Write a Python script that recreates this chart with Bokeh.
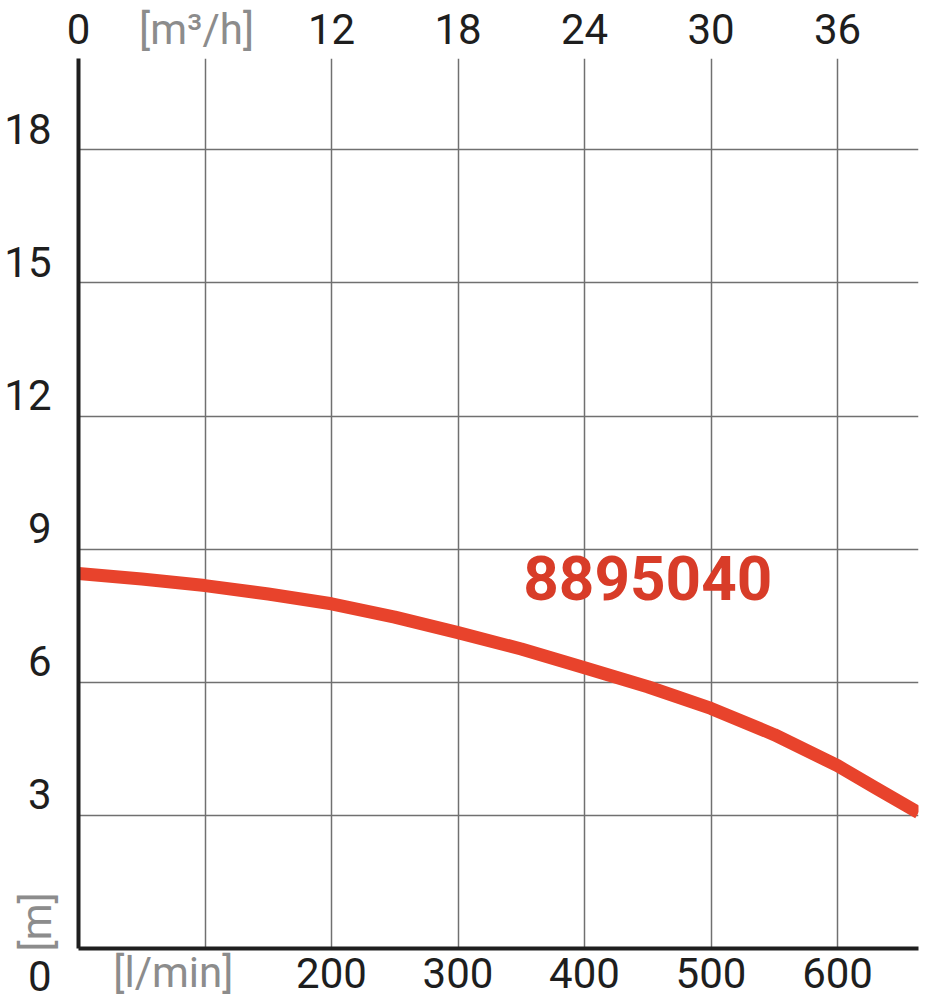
from bokeh.plotting import figure
from bokeh.models import Range1d, FixedTicker, Label, LinearAxis
from bokeh.embed import file_html
from bokeh.resources import INLINE

# ---- data ----
flow_lpm = [0, 50, 100, 150, 200, 250, 300, 350, 400, 450, 500, 550, 600, 630, 664]
head_m = [8.45, 8.33, 8.18, 7.99, 7.77, 7.47, 7.12, 6.75, 6.33, 5.9, 5.41, 4.82, 4.12, 3.62, 3.06]
series_name = "8895040"

x_ticks_lpm = [200, 300, 400, 500, 600]
top_ticks_m3h = [0, 12, 18, 24, 30, 36]
y_ticks_m = [0, 3, 6, 9, 12, 15, 18]
grid_x = [100, 200, 300, 400, 500, 600]
grid_y = [3, 6, 9, 12, 15, 18]

x_unit = "[l/min]"
x_unit_pos = 75          # l/min
top_unit = "[m³/h]"
top_unit_pos = 5.6       # m3/h
y_unit = "[m]"
y_unit_pos = 0.6         # m

X_MAX = 664
Y_MAX = 20.06

FONT = "Roboto"
FS = "42px"
BLACK = "#1e1e1e"
GRAY = "#8c8c8c"
RED = "#e8432c"

p = figure(width=933, height=1000, output_backend="svg", toolbar_location=None,
           x_range=Range1d(0, X_MAX), y_range=Range1d(0, Y_MAX),
           min_border_left=78, min_border_right=15, min_border_top=58, min_border_bottom=52,
           x_axis_location="below", y_axis_location="left")
p.extra_x_ranges = {"m3h": Range1d(0, X_MAX * 60 / 1000)}
p.outline_line_color = None
p.background_fill_color = "white"
p.border_fill_color = "white"

# grid
p.xgrid.ticker = FixedTicker(ticks=grid_x)
p.ygrid.ticker = FixedTicker(ticks=grid_y)
for g in (p.xgrid, p.ygrid):
    g.grid_line_color = "#707070"
    g.grid_line_width = 1.5


def style(ax, color=BLACK, line=True):
    ax.axis_line_color = BLACK if line else None
    ax.axis_line_width = 4
    ax.major_tick_line_color = None
    ax.minor_tick_line_color = None
    ax.major_label_text_font = FONT
    ax.major_label_text_font_size = FS
    ax.major_label_text_color = color


# main axes
bottom_axis = p.below[0]
left_axis = p.left[0]
style(bottom_axis)
style(left_axis)
bottom_axis.ticker = FixedTicker(ticks=x_ticks_lpm)
bottom_axis.major_label_standoff = 3
left_axis.ticker = FixedTicker(ticks=y_ticks_m)
left_axis.major_label_standoff = 21
left_axis.major_label_overrides = {v: (f"{v}\n" if v else "\n\n0") for v in y_ticks_m}
left_axis.major_label_text_line_height = 0.85

# top scale in m3/h
top_axis = LinearAxis(x_range_name="m3h", ticker=FixedTicker(ticks=top_ticks_m3h))
p.add_layout(top_axis, "above")
style(top_axis, line=False)
top_axis.major_label_standoff = 9

# unit captions as outer axes, pulled back onto the tick-label rows
top_unit_axis = LinearAxis(x_range_name="m3h", ticker=FixedTicker(ticks=[top_unit_pos]),
                           major_label_overrides={top_unit_pos: top_unit})
p.add_layout(top_unit_axis, "above")
style(top_unit_axis, color=GRAY, line=False)
top_unit_axis.major_label_standoff = -49

bottom_unit_axis = LinearAxis(ticker=FixedTicker(ticks=[x_unit_pos]),
                              major_label_overrides={x_unit_pos: x_unit})
p.add_layout(bottom_unit_axis, "below")
style(bottom_unit_axis, color=GRAY, line=False)
bottom_unit_axis.major_label_standoff = -49

left_unit_axis = LinearAxis(ticker=FixedTicker(ticks=[y_unit_pos]),
                            major_label_overrides={y_unit_pos: y_unit},
                            major_label_orientation="parallel")
p.add_layout(left_unit_axis, "left")
style(left_unit_axis, color=GRAY, line=False)
left_unit_axis.major_label_standoff = -66

# curve
p.line(flow_lpm, head_m, line_color=RED, line_width=13, line_cap="butt", line_join="round")

# series label
p.add_layout(Label(x=450, y=8.35, text=series_name, text_font=FONT, text_font_style="bold",
                   text_font_size="62px", text_color="#d83c28", text_align="center",
                   text_baseline="middle"))

open("out.html", "w").write(file_html(p, INLINE))
